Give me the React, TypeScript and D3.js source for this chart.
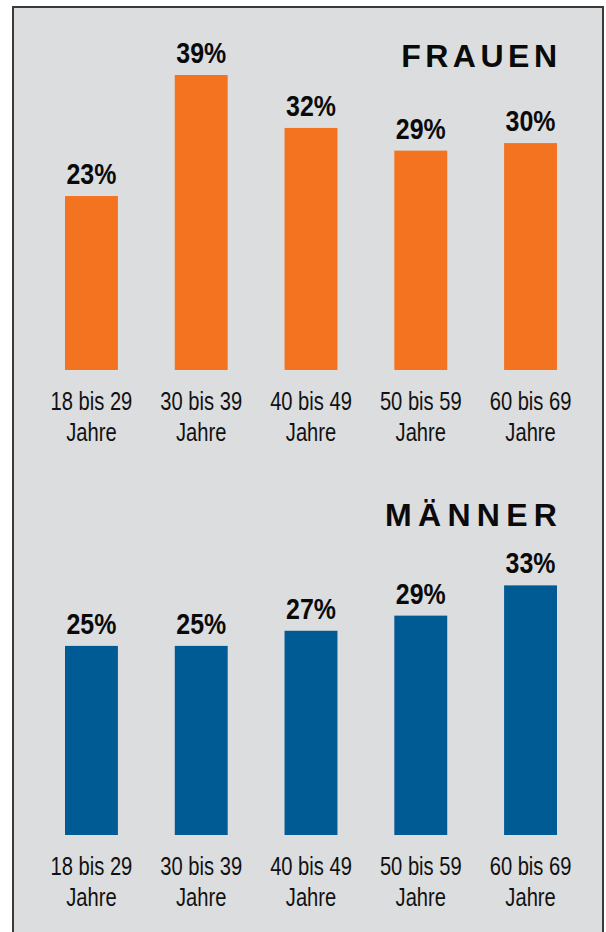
import React from "react";
import * as d3 from "d3";

const categories = ["18 bis 29", "30 bis 39", "40 bis 49", "50 bis 59", "60 bis 69"];
const categorySuffix = "Jahre";
const frauenValues = [23, 39, 32, 29, 30];
const maennerValues = [25, 25, 27, 29, 33];
const titles = ["FRAUEN", "MÄNNER"];

const W = 606;
const H = 932;

export default function App() {
  const x = d3.scaleBand<string>().domain(categories).range([65, 557]).paddingInner(0.518).paddingOuter(0);
  const h = d3.scaleLinear().domain([0, 39]).range([0, 295]);

  const panels = [
    { title: titles[0], values: frauenValues, base: 370, color: "#f47321", titleY: 67, ls: 4.5 },
    { title: titles[1], values: maennerValues, base: 835, color: "#005a94", titleY: 526, ls: 6.3 },
  ];

  const font = "'Liberation Sans', Arial, sans-serif";

  return (
    <svg width={W} height={H} style={{ position: "absolute", left: 0, top: 0, display: "block" }}>
      <rect x={0} y={0} width={W} height={H} fill="#ffffff" />
      <rect x={13} y={7} width={590} height={H + 20} fill="#dcdddf" stroke="#3a3a3a" strokeWidth={2} />
      {panels.map((p, pi) => (
        <g key={pi}>
          <text
            x={557 + p.ls}
            y={p.titleY}
            textAnchor="end"
            fontFamily={font}
            fontWeight="bold"
            fontSize={32}
            letterSpacing={p.ls}
            fill="#0a0a0a"
          >
            {p.title}
          </text>
          {categories.map((c, i) => {
            const v = p.values[i];
            const bx = x(c)!;
            const bw = x.bandwidth();
            const cx = bx + bw / 2;
            const top = p.base - h(v);
            return (
              <g key={c}>
                <rect x={bx} y={top} width={bw} height={h(v)} fill={p.color} />
                <text
                  transform={`translate(${cx},${top - 12}) scale(0.86,1)`}
                  textAnchor="middle"
                  fontFamily={font}
                  fontWeight="bold"
                  fontSize={29}
                  fill="#0a0a0a"
                >
                  {v}%
                </text>
                <text
                  transform={`translate(${cx},${p.base + 40}) scale(0.806,1)`}
                  textAnchor="middle"
                  fontFamily={font}
                  fontSize={25}
                  fill="#111"
                >
                  {c}
                </text>
                <text
                  transform={`translate(${cx},${p.base + 71}) scale(0.806,1)`}
                  textAnchor="middle"
                  fontFamily={font}
                  fontSize={25}
                  fill="#111"
                >
                  {categorySuffix}
                </text>
              </g>
            );
          })}
        </g>
      ))}
    </svg>
  );
}
